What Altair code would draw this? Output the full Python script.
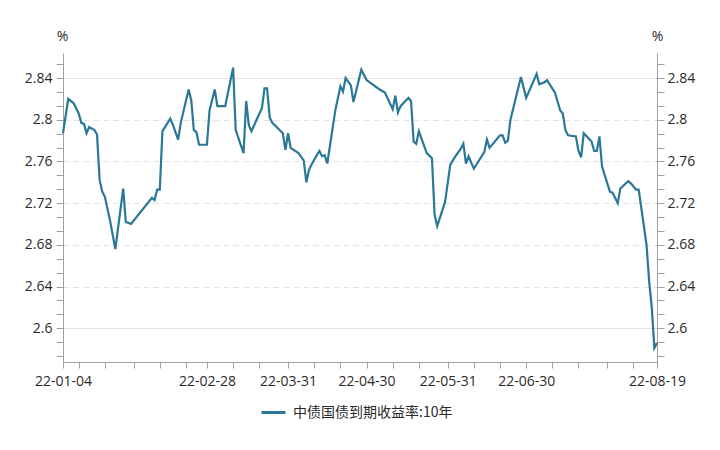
import altair as alt
import pandas as pd

series_name = "中债国债到期收益率:10年"

dates = [
    "2022-01-04", "2022-01-06", "2022-01-08", "2022-01-10", "2022-01-11", "2022-01-12",
    "2022-01-13", "2022-01-14", "2022-01-16", "2022-01-17", "2022-01-18", "2022-01-19",
    "2022-01-20", "2022-01-22", "2022-01-24", "2022-01-27", "2022-01-28", "2022-01-30",
    "2022-02-07", "2022-02-08", "2022-02-09", "2022-02-10", "2022-02-11", "2022-02-14",
    "2022-02-15", "2022-02-17", "2022-02-18", "2022-02-21", "2022-02-22", "2022-02-23",
    "2022-02-24", "2022-02-25", "2022-02-28", "2022-03-01", "2022-03-03", "2022-03-04",
    "2022-03-07", "2022-03-10", "2022-03-11", "2022-03-14", "2022-03-15", "2022-03-16",
    "2022-03-17", "2022-03-21", "2022-03-22", "2022-03-23", "2022-03-24", "2022-03-25",
    "2022-03-27", "2022-03-29", "2022-03-30", "2022-03-31", "2022-04-01", "2022-04-04",
    "2022-04-06", "2022-04-07", "2022-04-08", "2022-04-09", "2022-04-11", "2022-04-12",
    "2022-04-13", "2022-04-14", "2022-04-15", "2022-04-18", "2022-04-20", "2022-04-21",
    "2022-04-22", "2022-04-24", "2022-04-25", "2022-04-28", "2022-04-30", "2022-05-05",
    "2022-05-07", "2022-05-10", "2022-05-11", "2022-05-12", "2022-05-13", "2022-05-16",
    "2022-05-17", "2022-05-18", "2022-05-19", "2022-05-20", "2022-05-23", "2022-05-25",
    "2022-05-26", "2022-05-27", "2022-05-30", "2022-06-01", "2022-06-03", "2022-06-05",
    "2022-06-06", "2022-06-07", "2022-06-08", "2022-06-10", "2022-06-14", "2022-06-15",
    "2022-06-16", "2022-06-20", "2022-06-21", "2022-06-22", "2022-06-23", "2022-06-24",
    "2022-06-28", "2022-06-30", "2022-07-04", "2022-07-05", "2022-07-07", "2022-07-08",
    "2022-07-11", "2022-07-13", "2022-07-14", "2022-07-15", "2022-07-16", "2022-07-19",
    "2022-07-20", "2022-07-21", "2022-07-22", "2022-07-25", "2022-07-26", "2022-07-27",
    "2022-07-28", "2022-07-29", "2022-08-01", "2022-08-02", "2022-08-04", "2022-08-05",
    "2022-08-08", "2022-08-09", "2022-08-11", "2022-08-12", "2022-08-15", "2022-08-16",
    "2022-08-17", "2022-08-18", "2022-08-19",
]

yields = [
    2.787, 2.820, 2.816, 2.806, 2.797, 2.796,
    2.787, 2.793, 2.790, 2.786, 2.742, 2.731,
    2.726, 2.703, 2.676, 2.734, 2.702, 2.700,
    2.725, 2.723, 2.733, 2.733, 2.789, 2.801,
    2.795, 2.781, 2.797, 2.829, 2.819, 2.790,
    2.788, 2.776, 2.776, 2.809, 2.829, 2.813,
    2.813, 2.850, 2.790, 2.768, 2.818, 2.795,
    2.789, 2.811, 2.830, 2.830, 2.802, 2.797,
    2.792, 2.787, 2.771, 2.787, 2.773, 2.768,
    2.761, 2.740, 2.752, 2.757, 2.766, 2.770,
    2.765, 2.766, 2.758, 2.808, 2.832, 2.827,
    2.840, 2.833, 2.817, 2.848, 2.838, 2.829,
    2.826, 2.810, 2.823, 2.807, 2.813, 2.821,
    2.818, 2.779, 2.777, 2.789, 2.768, 2.763,
    2.709, 2.698, 2.721, 2.757, 2.765, 2.772,
    2.777, 2.758, 2.765, 2.753, 2.769, 2.781,
    2.773, 2.785, 2.785, 2.778, 2.780, 2.800,
    2.841, 2.821, 2.844, 2.834, 2.836, 2.838,
    2.826, 2.809, 2.806, 2.790, 2.785, 2.784,
    2.770, 2.764, 2.787, 2.779, 2.770, 2.770,
    2.784, 2.755, 2.731, 2.730, 2.720, 2.734,
    2.741, 2.739, 2.733, 2.733, 2.680, 2.645,
    2.620, 2.581, 2.586,
]

# axis ticks
x_tick_dates = [
    (1, 4), (1, 10), (1, 20), (1, 31), (2, 10), (2, 20), (2, 28), (3, 10), (3, 20), (3, 31),
    (4, 10), (4, 20), (4, 30), (5, 10), (5, 20), (5, 31), (6, 10), (6, 20), (6, 30),
    (7, 10), (7, 20), (7, 31), (8, 10), (8, 19),
]
x_labels = ["22-01-04", "22-02-28", "22-03-31", "22-04-30", "22-05-31", "22-06-30", "22-08-19"]
y_ticks = [
    2.5733, 2.5867, 2.6, 2.6133, 2.6267, 2.64, 2.6533, 2.6667, 2.68, 2.6933, 2.7067,
    2.72, 2.7333, 2.7467, 2.76, 2.7733, 2.7867, 2.8, 2.8133, 2.8267, 2.84, 2.8533,
]
y_domain = [2.5676, 2.864]

df = pd.DataFrame({
    "date": [d + "T00:00:00" for d in dates],
    "value": yields,
    "series": [series_name] * len(dates),
})

FONT = "Open Sans"
CJK = "Noto Sans CJK SC"
TXT = "#2a2a2a"
AXC = "#a0a0a0"
LINE = "#2a7798"

x_values = [alt.DateTime(year=2022, month=m, date=d) for m, d in x_tick_dates]
label_list = ",".join("'" + s + "'" for s in x_labels)

x_axis = alt.Axis(
    values=x_values, format="%y-%m-%d", title=None,
    labelExpr=f"indexof([{label_list}], datum.label) >= 0 ? datum.label : ''",
    labelOverlap=False, labelBound=False, labelFlush=False,
    grid=False, tickSize=6, labelPadding=6, domainColor=AXC, tickColor=AXC,
    labelFont=FONT, labelFontSize=14, labelColor=TXT,
)
x_scale = alt.Scale(domain=[alt.DateTime(year=2022, month=1, date=4),
                            alt.DateTime(year=2022, month=8, date=19)], nice=False)

label_test = "abs(datum.value*25 - round(datum.value*25)) < 0.01"
label_expr = f"{label_test} ? toString(round(datum.value*100)/100) : ''"
y_scale = alt.Scale(domain=y_domain, nice=False, zero=False)

left_axis = alt.Axis(
    values=y_ticks, labelExpr=label_expr, title="%", titleAngle=0,
    titleX=-1, titleY=-17, titleAlign="center", titleBaseline="middle",
    titleFont=FONT, titleFontSize=14, titleFontWeight="normal", titleColor=TXT,
    labelFont=FONT, labelFontSize=14, labelColor=TXT, labelPadding=4,
    labelOverlap=False, tickSize=7, domainColor=AXC, tickColor=AXC,
    grid=True, gridColor="#e2e2e2",
    gridOpacity={"condition": {"test": label_test, "value": 1}, "value": 0},
    gridDash={"condition": {"test": "abs(datum.value-2.84) < 0.001 || abs(datum.value-2.6) < 0.001",
                            "value": []}, "value": [6, 4]},
)
right_axis = alt.Axis(
    values=y_ticks, labelExpr=label_expr, orient="right", title="%", titleAngle=0,
    titleX=0, titleY=-17, titleAlign="center", titleBaseline="middle",
    titleFont=FONT, titleFontSize=14, titleFontWeight="normal", titleColor=TXT,
    labelFont=FONT, labelFontSize=14, labelColor=TXT, labelPadding=3,
    labelOverlap=False, tickSize=7, domainColor=AXC, tickColor=AXC, grid=False,
)

line = alt.Chart(df).mark_line(strokeWidth=2.2).encode(
    x=alt.X("date:T", scale=x_scale, axis=x_axis),
    y=alt.Y("value:Q", scale=y_scale, axis=left_axis),
    color=alt.Color(
        "series:N", scale=alt.Scale(range=[LINE]),
        legend=alt.Legend(
            title=None, orient="none", legendX=197, legendY=346, direction="horizontal",
            symbolType="stroke", symbolSize=576, symbolStrokeWidth=3, padding=0,
            labelFont=CJK, labelFontSize=14, labelColor=TXT, labelOffset=6,
        ),
    ),
)

ghost = alt.Chart(df).mark_line(opacity=0).encode(
    x=alt.X("date:T", scale=x_scale, axis=x_axis),
    y=alt.Y("value:Q", scale=y_scale, axis=right_axis),
)

chart = (
    alt.layer(line, ghost)
    .resolve_scale(x="shared", y="shared")
    .resolve_axis(x="shared", y="independent")
    .properties(
        width=594, height=309,
        autosize=alt.AutoSizeParams(type="none"),
        padding={"left": 63, "top": 53, "right": 63, "bottom": 88},
    )
    .configure_view(stroke=None)
)

chart.save("out.html", embed_options={"renderer": "svg", "actions": False})
